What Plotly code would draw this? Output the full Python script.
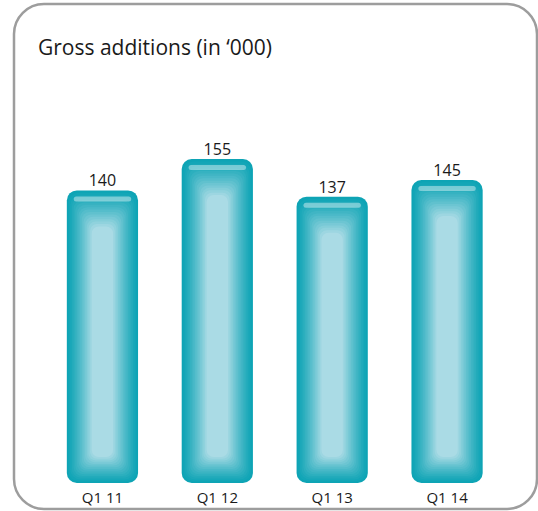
"""Gross additions bar chart"""

import plotly.graph_objects as go

quarters = ["Q1 11", "Q1 12", "Q1 13", "Q1 14"]
gross_additions = [140, 155, 137, 145]

W, H = 538, 511
Y_MAX = 200
PLOT_TOP, PLOT_BOTTOM = 65, 483  # pixel rows of the y axis range
PX = (PLOT_BOTTOM - PLOT_TOP) / Y_MAX  # pixels per unit

EDGE = (14, 164, 181)
CENTER = (170, 219, 229)
FONT = "Open Sans"


def mix(t: float) -> str:
    """colour between teal edge and pale centre"""
    return "rgb(%d,%d,%d)" % tuple(round(a + (b - a) * t) for a, b in zip(EDGE, CENTER))


def rounded_box(x0, y0, x1, y1, r):
    """svg path of a rounded rectangle, pixels, y up"""
    k = r * 0.55
    return (
        f"M {x0 + r},{y1} L {x1 - r},{y1} "
        f"C {x1 - r + k},{y1} {x1},{y1 - r + k} {x1},{y1 - r} "
        f"L {x1},{y0 + r} "
        f"C {x1},{y0 + r - k} {x1 - r + k},{y0} {x1 - r},{y0} "
        f"L {x0 + r},{y0} "
        f"C {x0 + r - k},{y0} {x0},{y0 + r - k} {x0},{y0 + r} "
        f"L {x0},{y1 - r} "
        f"C {x0},{y1 - r + k} {x0 + r - k},{y1} {x0 + r},{y1} Z"
    )


fig = go.Figure()

# layered floating bars give the glassy gradient
n_layers = 16
for k in range(n_layers):
    t = k / (n_layers - 1)
    width = 0.62 * (1 - 0.7 * t)
    top_in = 36 * t / PX
    bottom_in = (0.05 + 26 * t) / PX
    color = mix(t ** 1.25)
    radius = round(10 - 3 * t)
    fig.add_trace(
        go.Bar(
            x=quarters,
            y=[v - top_in - bottom_in for v in gross_additions],
            base=[bottom_in for _ in gross_additions],
            width=width,
            marker=dict(color=color, line_width=0, cornerradius=radius),
            hoverinfo="skip",
        )
    )

# glossy highlight strip near the top
fig.add_trace(
    go.Bar(
        x=quarters,
        y=[5 / PX for _ in gross_additions],
        base=[v - 11 / PX for v in gross_additions],
        width=0.5,
        marker=dict(color="rgba(255,255,255,0.4)", line_width=0, cornerradius=3),
        hoverinfo="skip",
    )
)

# value labels
fig.add_trace(
    go.Scatter(
        x=quarters,
        y=gross_additions,
        mode="text",
        text=[str(v) for v in gross_additions],
        textposition="top center",
        textfont=dict(size=16, color="#1a1a1a", family=FONT),
        hoverinfo="skip",
    )
)

fig.add_shape(
    type="path",
    xref="paper",
    yref="paper",
    xsizemode="pixel",
    ysizemode="pixel",
    xanchor=0,
    yanchor=0,
    path=rounded_box(14, 2, 537, 507, 30),
    line=dict(color="#9d9d9d", width=2.5),
    layer="below",
)

fig.add_annotation(
    text="Gross additions (in \u2018000)",
    xref="paper",
    yref="paper",
    x=36 / W,
    y=1 - 47 / H,
    xanchor="left",
    yanchor="middle",
    showarrow=False,
    font=dict(size=21, color="#1a1a1a", family=FONT),
)

fig.update_layout(
    width=W,
    height=H,
    margin=dict(l=0, r=0, t=0, b=0),
    paper_bgcolor="white",
    plot_bgcolor="rgba(0,0,0,0)",
    barmode="overlay",
    showlegend=False,
    font=dict(family=FONT, color="#1a1a1a"),
    xaxis=dict(
        type="category",
        range=[-0.5, 3.5],
        domain=[45 / W, 504.5 / W],
        showgrid=False,
        showline=False,
        zeroline=False,
        ticks="",
        tickfont=dict(size=15),
        ticklabelstandoff=4,
    ),
    yaxis=dict(
        range=[0, Y_MAX],
        domain=[(H - PLOT_BOTTOM) / H, (H - PLOT_TOP) / H],
        visible=False,
    ),
)

fig.write_html(
    "out.html",
    config={"displayModeBar": False},
    post_script="document.body.style.margin='0';",
)
